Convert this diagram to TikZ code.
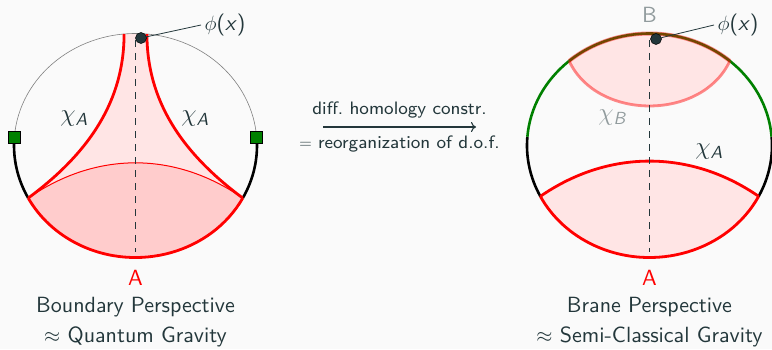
\documentclass[tikz,border=0pt]{standalone}
\usepackage{fontspec}
\setmainfont{lmsans10-regular.otf}[ItalicFont=lmsans10-oblique.otf,BoldFont=lmsans10-bold.otf]
\newfontfamily\midfont{lmsans8-regular.otf}
\usetikzlibrary{arrows.meta,positioning}
\definecolor{mDarkTeal}{HTML}{23373B}
\definecolor{mBack}{HTML}{FAFAFA}
\newcommand{\chisub}[1]{$\chi_{\mathit{#1}}$}
\newcommand{\phix}{$\phi$(\textit{x})}

\begin{document}
\begin{tikzpicture}[x=1pt,y=1pt,color=mDarkTeal,font=\fontsize{22}{24}\selectfont,
  bdry/.style={line width=2.6pt},
  redline/.style={red,line width=2.8pt},
  midline/.style={dash pattern=on 7pt off 6pt,line width=0.9pt},
  sqnode/.style={draw=black,fill=green!50!black,minimum size=12pt,inner sep=0pt,line width=0.6pt},
  dotnode/.style={circle,fill=mDarkTeal,draw=black,line width=0.5pt,minimum size=11pt,inner sep=0pt},
  biglbl/.style={font=\fontsize{22}{24}\selectfont},
  chilbl/.style={font=\fontsize{25}{27}\selectfont},
  midlbl/.style={font=\midfont\fontsize{18}{20}\selectfont},
  caption/.style={align=center,font=\fontsize{22}{30}\selectfont}]
  \fill[mBack] (0,0) rectangle (772,349);
  \useasboundingbox (0,0) rectangle (772,349);

  % boundary perspective
  \coordinate (L) at (135.5,203.5);
  \path (L) ++(208:121.5 and 112) coordinate (la)
        (L) ++(-28:121.5 and 112) coordinate (lb)
        (L) ++(95.4:121.5 and 112) coordinate (lt)
        (L) ++(84.6:121.5 and 112) coordinate (lu);
  \fill[red!10] (la) .. controls +(62,46) and +(0,-66) .. (lt)
     arc[start angle=95.4,end angle=84.6,x radius=121.5,y radius=112]
     .. controls +(0,-66) and +(-62,46) .. (lb)
     .. controls +(-68,47) and +(68,47) .. (la) -- cycle;
  \fill[red!20] (la) .. controls +(68,47) and +(-68,47) .. (lb)
     arc[start angle=-28,end angle=-152,x radius=121.5,y radius=112] -- cycle;
  \draw[gray,line width=0.6pt] (L) ++(175.6:121.5 and 112)
     arc[start angle=175.6,end angle=4.4,x radius=121.5,y radius=112];
  \draw[bdry,black] (L) ++(175.6:121.5 and 112)
     arc[start angle=175.6,end angle=208,x radius=121.5,y radius=112];
  \draw[bdry,black] (lb)
     arc[start angle=-28,end angle=4.4,x radius=121.5,y radius=112];
  \draw[red,line width=1pt] (la) .. controls +(68,47) and +(-68,47) .. (lb);
  \draw[redline] (la) .. controls +(62,46) and +(0,-66) .. (lt);
  \draw[redline] (lb) .. controls +(-62,46) and +(0,-66) .. (lu);
  \draw[redline] (lb) arc[start angle=-28,end angle=-152,x radius=121.5,y radius=112];
  \coordinate (dL1) at (135.5,309);
  \coordinate (dL2) at (135.5,97);
  \draw[midline] (dL1) -- (dL2);
  \path (L) ++(175.6:121.5 and 112) node[sqnode] (sqL1) {};
  \path (L) ++(4.4:121.5 and 112) node[sqnode] (sqL2) {};
  \node[biglbl,anchor=west] (phiL) at (201,324) {\phix};
  \node[dotnode] (dotL) at (141,311) {};
  \draw[line width=0.8pt] (dotL.center) -- (phiL.west);
  \node[chilbl] (chiL1) at (74,230) {\chisub{A}};
  \node[chilbl] (chiL2) at (195,230) {\chisub{A}};
  \node[biglbl,red] (AL) at (135.5,71.5) {A};
  \node[caption] (capL) at (135.5,27) {Boundary Perspective\\$\approx$ Quantum Gravity};

  % arrow in the middle
  \coordinate (arS) at (323,222);
  \coordinate (arE) at (476,222);
  \draw[-{Computer Modern Rightarrow[length=5pt,width=10pt]},line width=1.1pt] (arS) -- (arE);
  \node[midlbl,anchor=base] (arTop) at (399.5,235) {diff.\ homology constr.};
  \node[midlbl,anchor=base] (arBot) at (399.5,201) {$=$ reorganization of d.o.f.};

  % brane perspective
  \coordinate (R) at (649.5,203.5);
  \path (R) ++(207:122.5 and 112) coordinate (ra)
        (R) ++(-27:122.5 and 112) coordinate (rb)
        (R) ++(131:122.5 and 112) coordinate (g1)
        (R) ++(49:122.5 and 112) coordinate (g2)
        (R) ++(175.5:122.5 and 112) coordinate (k1)
        (R) ++(4.5:122.5 and 112) coordinate (k2);
  \fill[red!10] (ra) .. controls +(68,47) and +(-68,47) .. (rb)
     arc[start angle=-27,end angle=-153,x radius=122.5,y radius=112] -- cycle;
  \fill[red!10] (g1) arc[start angle=131,end angle=49,x radius=122.5,y radius=112]
     .. controls +(-28,-60) and +(28,-60) .. (g1) -- cycle;
  \draw[bdry,black] (k1) arc[start angle=175.5,end angle=207,x radius=122.5,y radius=112];
  \draw[bdry,black] (rb) arc[start angle=-27,end angle=4.5,x radius=122.5,y radius=112];
  \draw[bdry,green!50!black] (g1) arc[start angle=131,end angle=175.5,x radius=122.5,y radius=112];
  \draw[bdry,green!50!black] (k2) arc[start angle=4.5,end angle=131,x radius=122.5,y radius=112];
  \draw[redline,line width=4pt,opacity=0.45] (g1) arc[start angle=131,end angle=49,x radius=122.5,y radius=112];
  \draw[redline,opacity=0.45] (g2) .. controls +(-28,-60) and +(28,-60) .. (g1);
  \draw[redline] (ra) .. controls +(68,47) and +(-68,47) .. (rb);
  \draw[redline] (rb) arc[start angle=-27,end angle=-153,x radius=122.5,y radius=112];
  \coordinate (dR1) at (649.5,309);
  \coordinate (dR2) at (649.5,97);
  \draw[midline] (dR1) -- (dR2);
  \node[biglbl,anchor=west] (phiR) at (714,324) {\phix};
  \node[dotnode] (dotR) at (656,310) {};
  \draw[line width=0.8pt] (dotR.center) -- (phiR.west);
  \node[biglbl,mDarkTeal!50] (BR) at (649.5,334) {B};
  \node[chilbl,mDarkTeal!50] (chiB) at (612,231) {\chisub{B}};
  \node[chilbl] (chiR) at (709,197) {\chisub{A}};
  \node[biglbl,red] (AR) at (649.5,71.5) {A};
  \node[caption] (capR) at (649.5,27) {Brane Perspective\\$\approx$ Semi-Classical Gravity};
\end{tikzpicture}
\end{document}
